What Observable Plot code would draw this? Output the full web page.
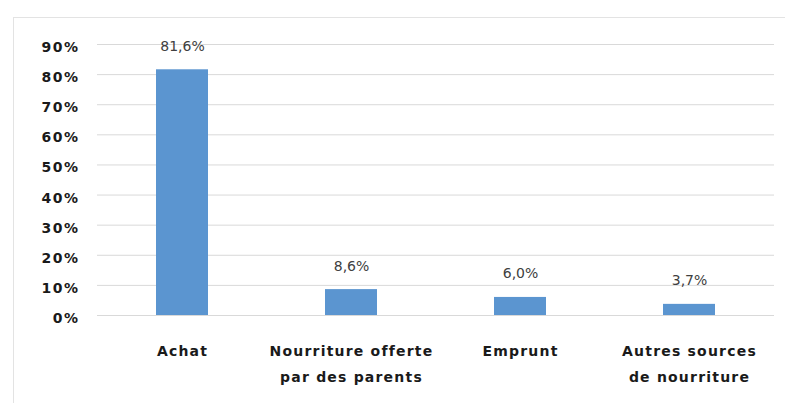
<!DOCTYPE html>
<html>
<head>
<meta charset="utf-8">
<script src="https://cdn.jsdelivr.net/npm/d3@7"></script>
<script src="https://cdn.jsdelivr.net/npm/@observablehq/plot@0.6"></script>
<style>
  html, body { margin: 0; padding: 0; background: #fff; }
  #wrap { position: relative; width: 785px; height: 403px; overflow: hidden; }
  #frame { position: absolute; left: 13px; top: 17px; right: -2px; bottom: -2px;
           border-left: 1px solid #e3e3e3; border-top: 1px solid #e3e3e3; pointer-events: none; }
  #chart { position: absolute; left: 0; top: 0; }
</style>
</head>
<body>
<div id="wrap"><div id="chart"></div><div id="frame"></div></div>
<script>
const categories = ["Achat", "Nourriture offerte\npar des parents", "Emprunt", "Autres sources\nde nourriture"];
const values = [81.6, 8.6, 6.0, 3.7];
const valueLabels = ["81,6%", "8,6%", "6,0%", "3,7%"];
const yTicks = [0, 10, 20, 30, 40, 50, 60, 70, 80, 90];

const data = categories.map((c, i) => ({cat: c, value: values[i], label: valueLabels[i]}));
const font = "DejaVu Sans, Liberation Sans, sans-serif";

const chart = Plot.plot({
  width: 785,
  height: 403,
  marginLeft: 97,
  marginRight: 11,
  marginTop: 44,
  marginBottom: 88,
  style: {fontFamily: font, background: "transparent"},
  x: {domain: categories, paddingInner: 0.69, paddingOuter: 0.345, axis: null, label: null},
  y: {domain: [0, 90], axis: null, label: null},
  marks: [
    Plot.gridY(yTicks, {stroke: "#d9d9d9", strokeOpacity: 1, strokeWidth: 1}),
    Plot.barY(data, {x: "cat", y: "value", fill: "#5b95d0"}),
    Plot.text(data, {x: "cat", y: "value", text: "label", dy: -19, lineAnchor: "bottom",
      fill: "#404040", fontSize: 14, style: "letter-spacing:1.2px"}),
    Plot.axisY(yTicks, {tickFormat: d => d + "%", tickSize: 0, tickPadding: 18, dy: 3,
      fontWeight: "bold", fontSize: 14, fill: "#1a1a1a", label: null}),
    Plot.axisX(categories, {tickSize: 0, tickPadding: 23, lineHeight: 1.8, lineAnchor: "top",
      fontWeight: "bold", fontSize: 14, fill: "#1a1a1a", label: null})
  ]
});
chart.querySelectorAll("g[aria-label='y-axis tick label'] text").forEach(t => t.style.letterSpacing = "1.5px");
chart.querySelectorAll("g[aria-label='x-axis tick label'] text").forEach(t => t.style.letterSpacing = "1.2px");
document.getElementById("chart").appendChild(chart);
</script>
</body>
</html>
